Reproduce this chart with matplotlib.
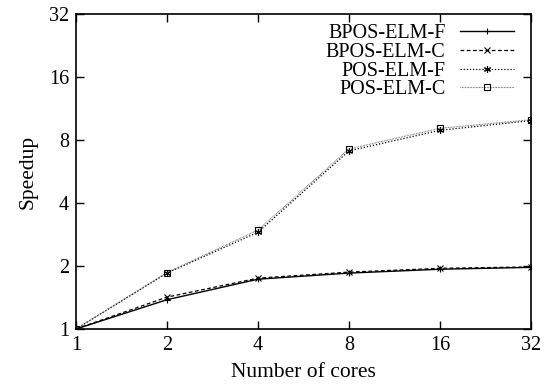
import matplotlib
matplotlib.use('Agg')
import matplotlib.pyplot as plt
from matplotlib.ticker import FixedLocator, NullLocator

plt.rcParams['font.family'] = ['Liberation Serif', 'DejaVu Serif']

# data
cores = [1, 2, 4, 8, 16, 32]
bpos_f = [1.0, 1.38, 1.73, 1.85, 1.93, 1.97]
bpos_c = [1.0, 1.42, 1.75, 1.87, 1.95, 1.98]
pos_f = [1.0, 1.85, 2.90, 7.10, 8.90, 9.90]
pos_c = [1.0, 1.86, 2.97, 7.25, 9.10, 10.0]
ticks = [1, 2, 4, 8, 16, 32]

fig = plt.figure(figsize=(5.47, 3.91), dpi=100)
ax = fig.add_axes([76/547, 1 - 329/391, (531-76)/547, (329-14)/391])

ax.plot(cores, bpos_f, color='black', lw=1.0, ls='-', marker='+', ms=5, mew=0.8, label='BPOS-ELM-F')
ax.plot(cores, bpos_c, color='black', lw=0.9, ls=(0, (3, 2)), marker='x', ms=4, mew=0.8, label='BPOS-ELM-C')
ax.plot(cores, pos_f, color='black', lw=0.9, ls=(0, (1, 1.5)), marker=(6, 2, 0), ms=5, mew=0.8, label='POS-ELM-F')
ax.plot(cores, pos_c, color='#555555', lw=0.8, ls=(0, (0.6, 0.8)), marker='s', ms=4.5, mfc='none', mec='black', mew=0.8, label='POS-ELM-C')

ax.set_xscale('log', base=2)
ax.set_yscale('log', base=2)
ax.set_xlim(1, 32)
ax.set_ylim(1, 32)
ax.xaxis.set_major_locator(FixedLocator(ticks))
ax.yaxis.set_major_locator(FixedLocator(ticks))
ax.xaxis.set_minor_locator(NullLocator())
ax.yaxis.set_minor_locator(NullLocator())
ax.set_xticklabels([str(t) for t in ticks])
ax.set_yticklabels([str(t) for t in ticks])
ax.tick_params(direction='in', top=True, right=True, length=6, width=1, labelsize=14.5, pad=5)
for s in ax.spines.values():
    s.set_linewidth(1.2)

ax.set_xlabel('Number of cores', fontsize=15.5, labelpad=6)
ax.set_ylabel('Speedup', fontsize=15.5, labelpad=8)

leg = ax.legend(loc='upper right', frameon=False, markerfirst=False, fontsize=14.5,
                handlelength=2.7, labelspacing=-0.02, borderaxespad=0.1, handletextpad=0.7,
                bbox_to_anchor=(0.985, 1.0))
for t in leg.get_texts():
    t.set_ha('right')
leg._legend_box.align = 'right'

fig.savefig('out.png', dpi=100)
